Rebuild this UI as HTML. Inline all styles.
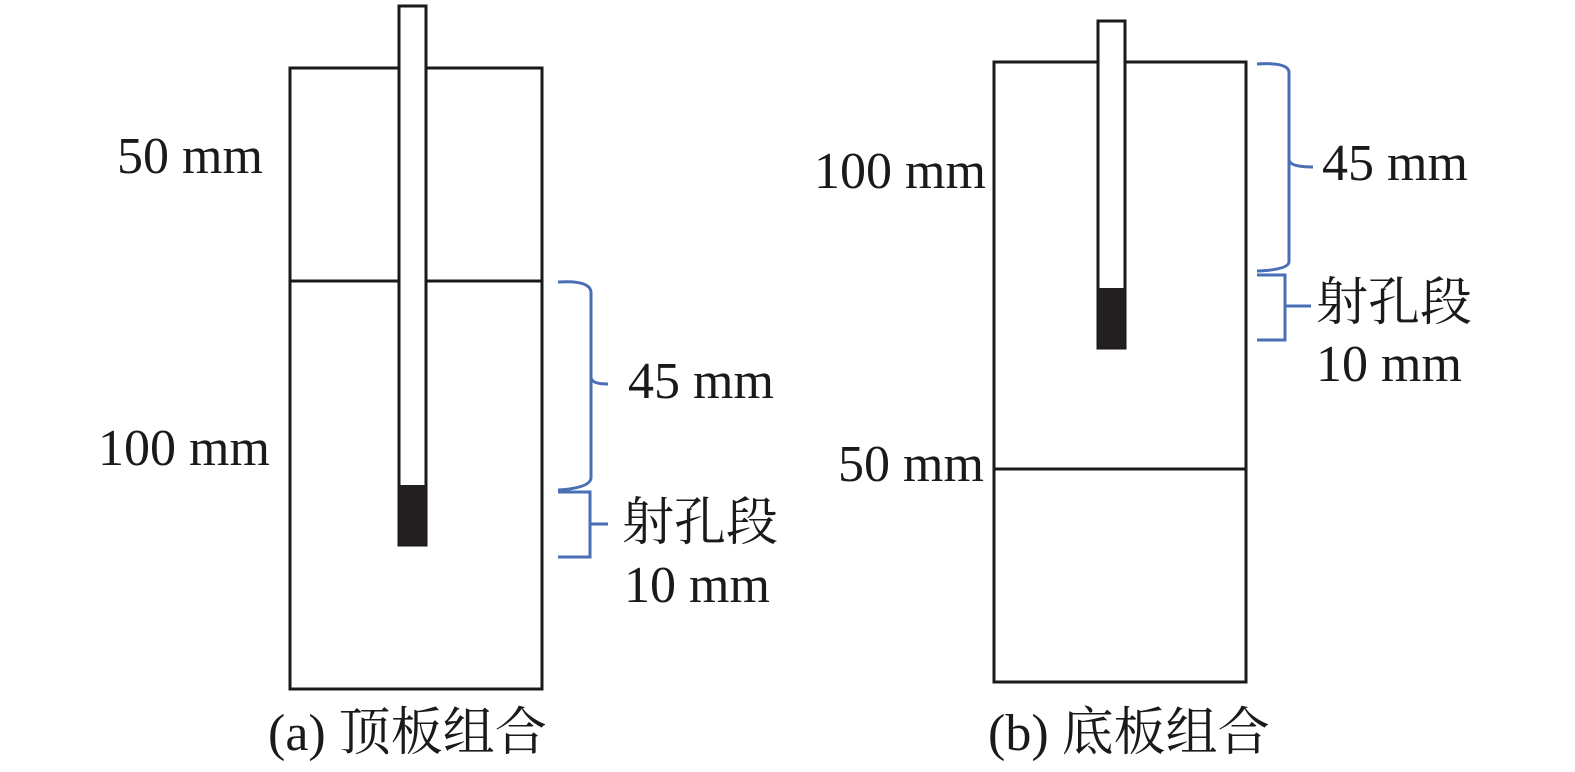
<!DOCTYPE html>
<html><head><meta charset="utf-8"><style>
html,body{margin:0;padding:0;background:#fff;}
svg{display:block;}
text{font-family:"Liberation Serif","Noto Serif CJK SC",serif;font-size:52px;fill:#1a1a1a;}
</style></head><body>
<svg width="1575" height="772" viewBox="0 0 1575 772" xmlns="http://www.w3.org/2000/svg">
<g fill="none" stroke="#1a1a1a" stroke-width="3">
<rect x="290" y="68" width="252" height="621"/>
<line x1="290" y1="281" x2="542" y2="281"/>
<rect x="399" y="6" width="27" height="539" fill="#fff"/>
<rect x="994" y="62" width="252" height="620"/>
<line x1="994" y1="469" x2="1246" y2="469"/>
<rect x="1098" y="21" width="27" height="327" fill="#fff"/>
</g>
<rect x="399" y="485" width="27" height="60" fill="#231f20"/>
<rect x="1098" y="288" width="27" height="60" fill="#231f20"/>
<g fill="none" stroke="#4a6fb5" stroke-width="3">
<path d="M558,282 Q590,280 591,292 L591,378 Q592,384 608,384 M591,378 Q591,390 591,392 L591,478 Q590,488 558,490"/>
<path d="M558,492 L590,492 L590,557 L558,557 M590,524 L608,524"/>
<path d="M1257,64 Q1288,62 1289,72 L1289,160 Q1290,167 1313,167 M1289,160 Q1289,174 1289,176 L1289,262 Q1288,270 1257,271"/>
<path d="M1257,275 L1285,275 L1285,340 L1257,340 M1285,306 L1311,306"/>
</g>
<text x="117" y="173">50 mm</text>
<text x="98" y="465">100 mm</text>
<text x="628" y="398">45 mm</text>
<text x="622" y="540">射孔段</text>
<text x="624" y="602">10 mm</text>
<text x="268" y="750">(a) 顶板组合</text>
<text x="814" y="188">100 mm</text>
<text x="1322" y="180">45 mm</text>
<text x="1316" y="320">射孔段</text>
<text x="1316" y="381">10 mm</text>
<text x="838" y="481">50 mm</text>
<text x="988" y="750">(b) 底板组合</text>
</svg>
</body></html>
